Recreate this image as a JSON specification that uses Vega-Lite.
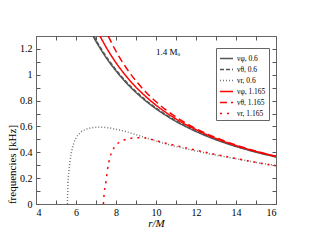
{
  "$schema": "https://vega.github.io/schema/vega-lite/v6.json",
  "width": 240,
  "height": 168,
  "autosize": "none",
  "padding": {"left": 36, "top": 36, "right": 35, "bottom": 37},
  "background": "white",
  "config": {
    "font": "Liberation Serif",
    "view": {"stroke": "#666", "strokeWidth": 1},
    "axis": {"grid": false, "domainColor": "#666", "tickColor": "#555", "tickWidth": 1, "labelFont": "Liberation Serif", "titleFont": "Liberation Serif", "labelFontSize": 10, "titleFontSize": 11, "titleFontWeight": "normal", "labelColor": "black", "titleColor": "black", "labelOverlap": false},
    "legend": {"orient": "none", "legendX": 180, "legendY": 12, "strokeColor": "#666", "fillColor": "white", "padding": 3, "labelFont": "Liberation Serif", "labelFontSize": 7.5, "symbolSize": 170, "symbolStrokeWidth": 1.5, "rowPadding": -1, "labelOffset": 3}
  },
  "datasets": {
    "curves": [
      {"s": "νφ, 0.6", "r": 6.85, "nu": 1.3},
      {"s": "νφ, 0.6", "r": 7, "nu": 1.258},
      {"s": "νφ, 0.6", "r": 7.25, "nu": 1.194},
      {"s": "νφ, 0.6", "r": 7.5, "nu": 1.134},
      {"s": "νφ, 0.6", "r": 7.75, "nu": 1.08},
      {"s": "νφ, 0.6", "r": 8, "nu": 1.03},
      {"s": "νφ, 0.6", "r": 8.5, "nu": 0.94},
      {"s": "νφ, 0.6", "r": 9, "nu": 0.863},
      {"s": "νφ, 0.6", "r": 9.5, "nu": 0.796},
      {"s": "νφ, 0.6", "r": 10, "nu": 0.737},
      {"s": "νφ, 0.6", "r": 10.5, "nu": 0.685},
      {"s": "νφ, 0.6", "r": 11, "nu": 0.639},
      {"s": "νφ, 0.6", "r": 12, "nu": 0.561},
      {"s": "νφ, 0.6", "r": 13, "nu": 0.497},
      {"s": "νφ, 0.6", "r": 14, "nu": 0.445},
      {"s": "νφ, 0.6", "r": 15, "nu": 0.401},
      {"s": "νφ, 0.6", "r": 16, "nu": 0.364},
      {"s": "νθ, 0.6", "r": 6.9, "nu": 1.298},
      {"s": "νθ, 0.6", "r": 7, "nu": 1.268},
      {"s": "νθ, 0.6", "r": 7.25, "nu": 1.204},
      {"s": "νθ, 0.6", "r": 7.5, "nu": 1.143},
      {"s": "νθ, 0.6", "r": 7.75, "nu": 1.089},
      {"s": "νθ, 0.6", "r": 8, "nu": 1.038},
      {"s": "νθ, 0.6", "r": 8.5, "nu": 0.948},
      {"s": "νθ, 0.6", "r": 9, "nu": 0.87},
      {"s": "νθ, 0.6", "r": 9.5, "nu": 0.802},
      {"s": "νθ, 0.6", "r": 10, "nu": 0.743},
      {"s": "νθ, 0.6", "r": 10.5, "nu": 0.69},
      {"s": "νθ, 0.6", "r": 11, "nu": 0.644},
      {"s": "νθ, 0.6", "r": 12, "nu": 0.565},
      {"s": "νθ, 0.6", "r": 13, "nu": 0.501},
      {"s": "νθ, 0.6", "r": 14, "nu": 0.448},
      {"s": "νθ, 0.6", "r": 15, "nu": 0.404},
      {"s": "νθ, 0.6", "r": 16, "nu": 0.367},
      {"s": "νr, 0.6", "r": 5.57, "nu": 0},
      {"s": "νr, 0.6", "r": 5.6, "nu": 0.16},
      {"s": "νr, 0.6", "r": 5.65, "nu": 0.26},
      {"s": "νr, 0.6", "r": 5.7, "nu": 0.33},
      {"s": "νr, 0.6", "r": 5.8, "nu": 0.42},
      {"s": "νr, 0.6", "r": 5.9, "nu": 0.475},
      {"s": "νr, 0.6", "r": 6, "nu": 0.51},
      {"s": "νr, 0.6", "r": 6.2, "nu": 0.55},
      {"s": "νr, 0.6", "r": 6.5, "nu": 0.578},
      {"s": "νr, 0.6", "r": 6.8, "nu": 0.59},
      {"s": "νr, 0.6", "r": 7.2, "nu": 0.595},
      {"s": "νr, 0.6", "r": 7.6, "nu": 0.59},
      {"s": "νr, 0.6", "r": 8, "nu": 0.578},
      {"s": "νr, 0.6", "r": 8.5, "nu": 0.56},
      {"s": "νr, 0.6", "r": 9, "nu": 0.537},
      {"s": "νr, 0.6", "r": 9.5, "nu": 0.512},
      {"s": "νr, 0.6", "r": 10, "nu": 0.487},
      {"s": "νr, 0.6", "r": 10.5, "nu": 0.465},
      {"s": "νr, 0.6", "r": 11, "nu": 0.445},
      {"s": "νr, 0.6", "r": 12, "nu": 0.41},
      {"s": "νr, 0.6", "r": 13, "nu": 0.378},
      {"s": "νr, 0.6", "r": 14, "nu": 0.35},
      {"s": "νr, 0.6", "r": 15, "nu": 0.322},
      {"s": "νr, 0.6", "r": 16, "nu": 0.298},
      {"s": "νφ, 1.165", "r": 7.2, "nu": 1.299},
      {"s": "νφ, 1.165", "r": 7.5, "nu": 1.215},
      {"s": "νφ, 1.165", "r": 7.75, "nu": 1.151},
      {"s": "νφ, 1.165", "r": 8, "nu": 1.093},
      {"s": "νφ, 1.165", "r": 8.5, "nu": 0.991},
      {"s": "νφ, 1.165", "r": 9, "nu": 0.904},
      {"s": "νφ, 1.165", "r": 9.5, "nu": 0.83},
      {"s": "νφ, 1.165", "r": 10, "nu": 0.765},
      {"s": "νφ, 1.165", "r": 10.5, "nu": 0.708},
      {"s": "νφ, 1.165", "r": 11, "nu": 0.658},
      {"s": "νφ, 1.165", "r": 12, "nu": 0.575},
      {"s": "νφ, 1.165", "r": 13, "nu": 0.507},
      {"s": "νφ, 1.165", "r": 14, "nu": 0.452},
      {"s": "νφ, 1.165", "r": 15, "nu": 0.407},
      {"s": "νφ, 1.165", "r": 16, "nu": 0.369},
      {"s": "νθ, 1.165", "r": 7.62, "nu": 1.298},
      {"s": "νθ, 1.165", "r": 7.75, "nu": 1.256},
      {"s": "νθ, 1.165", "r": 8, "nu": 1.182},
      {"s": "νθ, 1.165", "r": 8.5, "nu": 1.056},
      {"s": "νθ, 1.165", "r": 9, "nu": 0.952},
      {"s": "νθ, 1.165", "r": 9.5, "nu": 0.865},
      {"s": "νθ, 1.165", "r": 10, "nu": 0.791},
      {"s": "νθ, 1.165", "r": 10.5, "nu": 0.728},
      {"s": "νθ, 1.165", "r": 11, "nu": 0.673},
      {"s": "νθ, 1.165", "r": 12, "nu": 0.583},
      {"s": "νθ, 1.165", "r": 13, "nu": 0.513},
      {"s": "νθ, 1.165", "r": 14, "nu": 0.456},
      {"s": "νθ, 1.165", "r": 15, "nu": 0.409},
      {"s": "νθ, 1.165", "r": 16, "nu": 0.369},
      {"s": "νr, 1.165", "r": 7.37, "nu": 0},
      {"s": "νr, 1.165", "r": 7.42, "nu": 0.1},
      {"s": "νr, 1.165", "r": 7.5, "nu": 0.175},
      {"s": "νr, 1.165", "r": 7.57, "nu": 0.26},
      {"s": "νr, 1.165", "r": 7.7, "nu": 0.36},
      {"s": "νr, 1.165", "r": 7.85, "nu": 0.42},
      {"s": "νr, 1.165", "r": 8, "nu": 0.455},
      {"s": "νr, 1.165", "r": 8.2, "nu": 0.48},
      {"s": "νr, 1.165", "r": 8.4, "nu": 0.495},
      {"s": "νr, 1.165", "r": 8.7, "nu": 0.507},
      {"s": "νr, 1.165", "r": 9, "nu": 0.512},
      {"s": "νr, 1.165", "r": 9.5, "nu": 0.51},
      {"s": "νr, 1.165", "r": 10, "nu": 0.49},
      {"s": "νr, 1.165", "r": 10.5, "nu": 0.47},
      {"s": "νr, 1.165", "r": 11, "nu": 0.452},
      {"s": "νr, 1.165", "r": 12, "nu": 0.417},
      {"s": "νr, 1.165", "r": 13, "nu": 0.383},
      {"s": "νr, 1.165", "r": 14, "nu": 0.352},
      {"s": "νr, 1.165", "r": 15, "nu": 0.322},
      {"s": "νr, 1.165", "r": 16, "nu": 0.295}
    ],
    "notes": [
      {"r": 10.0, "nu": 1.18, "label": "1.4 Mₒ"}
    ]
  },
  "resolve": {"axis": {"x": "independent", "y": "independent"}},
  "layer": [
    {
      "data": {"name": "curves"},
      "mark": {"type": "line", "clip": true, "interpolate": "monotone"},
      "encoding": {
        "x": {"field": "r", "type": "quantitative", "scale": {"domain": [4, 16], "nice": false}, "title": "r/M",
              "axis": {"values": [4,5,6,7,8,9,10,11,12,13,14,15,16], "labelExpr": "datum.value % 2 == 0 ? datum.label : ''", "tickSize": -4, "labelPadding": 7, "titleFontStyle": "italic", "titlePadding": 0}},
        "y": {"field": "nu", "type": "quantitative", "scale": {"domain": [0, 1.3], "nice": false}, "title": "frequencies [kHz]",
              "axis": {"values": [0,0.1,0.2,0.3,0.4,0.5,0.6,0.7,0.8,0.9,1.0,1.1,1.2], "labelExpr": "(round(datum.value*10) % 2 == 0) ? format(datum.value, '~g') : ''", "tickSize": -4, "labelPadding": 8, "titlePadding": 2, "titleY": 128}},
        "color": {"field": "s", "type": "nominal", "title": null,
                  "scale": {"domain": ["νφ, 0.6", "νθ, 0.6", "νr, 0.6", "νφ, 1.165", "νθ, 1.165", "νr, 1.165"], "range": ["#555555", "#555555", "#777777", "#ff0000", "#ff0000", "#ff0000"]}},
        "strokeDash": {"field": "s", "type": "nominal", "title": null,
                  "scale": {"domain": ["νφ, 0.6", "νθ, 0.6", "νr, 0.6", "νφ, 1.165", "νθ, 1.165", "νr, 1.165"], "range": [[1,0], [4,2], [1,2], [1,0], [7,4], [2,5]]}},
        "strokeWidth": {"field": "s", "type": "nominal", "title": null,
                  "scale": {"domain": ["νφ, 0.6", "νθ, 0.6", "νr, 0.6", "νφ, 1.165", "νθ, 1.165", "νr, 1.165"], "range": [1.5, 1.5, 0.8, 2, 2, 2.2]}}
      }
    },
    {
      "data": {"name": "notes"},
      "mark": {"type": "text", "align": "left", "baseline": "middle", "fontSize": 9, "font": "Liberation Serif"},
      "encoding": {
        "x": {"field": "r", "type": "quantitative", "axis": {"orient": "top", "values": [4,5,6,7,8,9,10,11,12,13,14,15,16], "labels": false, "title": null, "tickSize": -4, "domain": false}},
        "y": {"field": "nu", "type": "quantitative", "axis": {"orient": "right", "values": [0,0.1,0.2,0.3,0.4,0.5,0.6,0.7,0.8,0.9,1.0,1.1,1.2], "labels": false, "title": null, "tickSize": -4, "domain": false}},
        "text": {"field": "label"}
      }
    }
  ]
}
